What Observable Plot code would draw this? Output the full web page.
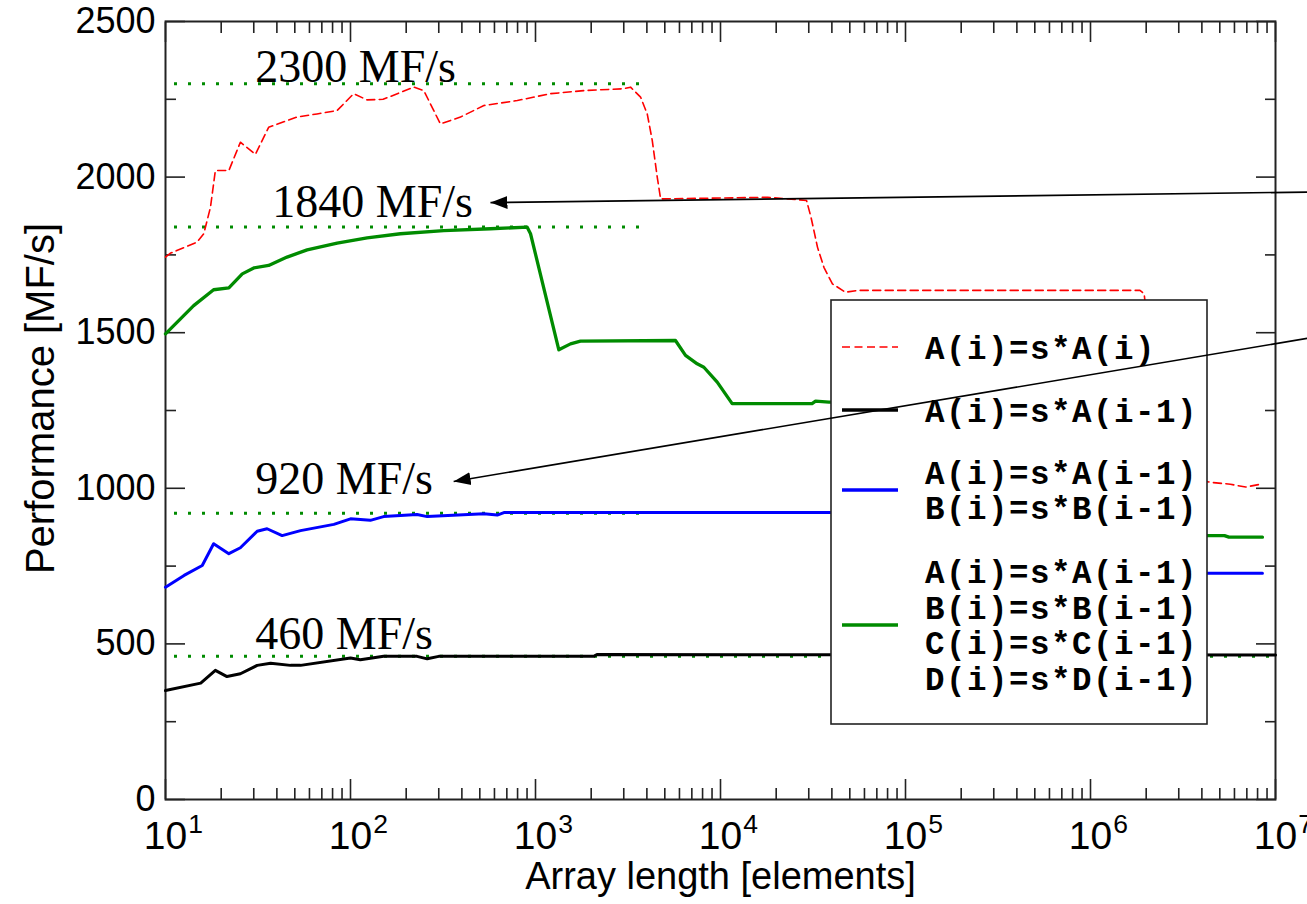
<!DOCTYPE html>
<html>
<head>
<meta charset="utf-8">
<script src="https://cdn.jsdelivr.net/npm/d3@7"></script>
<script src="https://cdn.jsdelivr.net/npm/@observablehq/plot@0.6"></script>
<style>
  html, body { margin: 0; padding: 0; background: #fff; }
  #chart svg { display: block; }
</style>
</head>
<body>
<div id="chart"></div>
<script>
// ---------- data ----------
const xTickExponents = [1, 2, 3, 4, 5, 6, 7];
const yTicks = [0, 500, 1000, 1500, 2000, 2500];
const yMinorTicks = [250, 750, 1250, 1750, 2250];
const xTitle = "Array length [elements]";
const yTitle = "Performance [MF/s]";

const seriesLabels = [
  ["A(i)=s*A(i)"],
  ["A(i)=s*A(i-1)"],
  ["A(i)=s*A(i-1)", "B(i)=s*B(i-1)"],
  ["A(i)=s*A(i-1)", "B(i)=s*B(i-1)", "C(i)=s*C(i-1)", "D(i)=s*D(i-1)"]
];
const seriesColors = ["#ff0000", "#000000", "#0000ff", "#008b00"];

// A(i)=s*A(i)  (red dashed)
const redX = [10, 10.6, 14.8, 16.1, 17.5, 18.6, 22, 25.4, 30.6, 36.1, 51.4, 65.9, 84.7, 104, 123, 150, 220, 249, 306, 393, 526, 797, 1205, 1824, 3000, 3264, 3698, 4018, 4276, 4550, 4745, 17990, 29170, 30850, 33430, 36230, 40270, 47400, 55700, 1850000, 1950000, 2100000, 2800000, 4000000, 4500000, 5700000, 6900000, 8100000];
const redY = [1743, 1755, 1791, 1818, 1903, 2021, 2021, 2112, 2073, 2160, 2193, 2203, 2214, 2268, 2248, 2250, 2289, 2278, 2171, 2193, 2230, 2246, 2268, 2278, 2284, 2289, 2257, 2203, 2118, 2000, 1930, 1935, 1925, 1871, 1775, 1710, 1657, 1630, 1636, 1636, 1625, 1450, 1100, 1025, 1019, 1013, 1004, 1012];

// A(i)=s*A(i-1)  (black)
const blackX = [10, 15.5, 18.6, 21.5, 25.4, 31.3, 37, 47.4, 53.7, 100, 113, 151, 229, 260, 300, 2066, 2150, 10000000];
const blackY = [350, 374, 415, 395, 404, 431, 438, 431, 431, 455, 449, 460, 460, 452, 460, 460, 466, 464];

// A,B  (blue)
const blueX = [10, 12.6, 15.8, 18.2, 22, 25.4, 31.3, 35.4, 42.7, 53.7, 81.3, 100, 128, 151, 229, 260, 526, 621, 675, 80000, 150000, 300000, 4500000, 8500000];
const blueY = [682, 720, 752, 822, 790, 809, 862, 870, 848, 864, 884, 902, 897, 909, 916, 909, 918, 914, 922, 922, 780, 727, 727, 727];

// A,B,C,D  (green)
const greenX = [10, 14.2, 18.2, 22, 26, 30, 36.1, 45.4, 58.3, 84.7, 123, 186, 319, 571, 902, 940, 1337, 1546, 1750, 5710, 6470, 7480, 8130, 9600, 11560, 31250, 32650, 38550, 60000, 150000, 300000, 4500000, 5300000, 5600000, 8500000];
const greenY = [1496, 1587, 1638, 1644, 1689, 1708, 1716, 1743, 1766, 1788, 1805, 1818, 1828, 1834, 1839, 1818, 1445, 1464, 1473, 1475, 1427, 1400, 1389, 1341, 1272, 1272, 1280, 1277, 1277, 1000, 850, 848, 848, 843, 843];

// dotted reference levels and their labels
const refValues = [2300, 1840, 920, 460];
const refFrom = [10, 10, 10, 10];
const refTo = [4000, 4000, 4000, 10000000];
const refLabels = ["2300 MF/s", "1840 MF/s", "920 MF/s", "460 MF/s"];
const refLabelX = [30.6, 37.8, 30.6, 30.6];
const refLabelY = [2307, 1873, 983, 485];

// annotation arrows (start beyond right edge, tip at label)
const arrowFromX = [16000000, 16000000];
const arrowFromY = [1952, 1485];
const arrowToX = [571, 361];
const arrowToY = [1918, 1022];

// ---------- tables ----------
const toRows = (xs, ys) => xs.map((x, i) => ({x, y: ys[i]}));
const red = toRows(redX, redY);
const black = toRows(blackX, blackY);
const blue = toRows(blueX, blueY);
const green = toRows(greenX, greenY);
const refs = refValues.map((v, i) => ({v, x1: refFrom[i], x2: refTo[i], label: refLabels[i], lx: refLabelX[i], ly: refLabelY[i]}));
const arrows = arrowFromX.map((x, i) => ({x1: x, y1: arrowFromY[i], x2: arrowToX[i], y2: arrowToY[i]}));
const xMajor = xTickExponents.map(e => Math.pow(10, e));
const xMinor = xTickExponents.slice(0, -1).flatMap(e => d3.range(2, 10).map(m => m * Math.pow(10, e)));
const xFmt = d => "10^" + Math.round(Math.log10(d));
const yFmt = d => String(d);

const axisColor = "#222";
const chart = Plot.plot({
  width: 1307,
  height: 904,
  marginLeft: 165,
  marginRight: 32,
  marginTop: 21,
  marginBottom: 105,
  style: {fontFamily: "'Liberation Sans', Arial, Helvetica, sans-serif", fontSize: "34px", background: "#fff", overflow: "visible", color: "#000"},
  x: {type: "log", domain: [10, 1e7]},
  y: {domain: [0, 2500]},
  marks: [
    // inward ticks on four sides
    Plot.axisY(yTicks, {anchor: "left", tickSize: -20, tickPadding: 30, tickFormat: yFmt, strokeWidth: 1.6, stroke: axisColor, label: null, fontSize: 36}),
    Plot.axisY(yMinorTicks, {anchor: "left", tickSize: -11, strokeWidth: 1.6, stroke: axisColor, fill: "none", label: null}),
    Plot.axisY(yTicks, {anchor: "right", tickSize: -20, strokeWidth: 1.6, stroke: axisColor, fill: "none", label: null}),
    Plot.axisY(yMinorTicks, {anchor: "right", tickSize: -11, strokeWidth: 1.6, stroke: axisColor, fill: "none", label: null}),
    Plot.axisX(xMajor, {anchor: "bottom", tickSize: -20, tickPadding: 42, tickFormat: xFmt, strokeWidth: 1.6, stroke: axisColor, label: null, fontSize: 39}),
    Plot.axisX(xMinor, {anchor: "bottom", tickSize: -11, strokeWidth: 1.6, stroke: axisColor, fill: "none", label: null}),
    Plot.axisX(xMajor, {anchor: "top", tickSize: -20, strokeWidth: 1.6, stroke: axisColor, fill: "none", label: null}),
    Plot.axisX(xMinor, {anchor: "top", tickSize: -11, strokeWidth: 1.6, stroke: axisColor, fill: "none", label: null}),
    Plot.frame({stroke: axisColor, strokeWidth: 2}),
    // axis titles
    Plot.text([xTitle], {frameAnchor: "bottom", textAnchor: "middle", dy: 89, lineAnchor: "bottom", fontSize: 38, fill: "#000"}),
    Plot.text([yTitle], {frameAnchor: "left", textAnchor: "middle", lineAnchor: "middle", rotate: -90, dx: -124, dy: -12, fontSize: 40, fill: "#000"}),
    // dotted reference levels
    Plot.ruleY(refs, {y: "v", x1: "x1", x2: "x2", stroke: "#008b00", strokeWidth: 3, strokeDasharray: "3,11", strokeDashoffset: -9}),
    // series
    Plot.line(red, {x: "x", y: "y", stroke: seriesColors[0], strokeWidth: 1.6, strokeDasharray: "8,4.5"}),
    Plot.line(black, {x: "x", y: "y", stroke: seriesColors[1], strokeWidth: 3}),
    Plot.line(blue, {x: "x", y: "y", stroke: seriesColors[2], strokeWidth: 3}),
    Plot.line(green, {x: "x", y: "y", stroke: seriesColors[3], strokeWidth: 3.3}),
    // reference labels
    Plot.text(refs, {x: "lx", y: "ly", text: "label", textAnchor: "start", lineAnchor: "bottom", fontFamily: "'Liberation Serif', 'Times New Roman', serif", fontSize: 46, fill: "#000"}),
    // arrows
    Plot.link(arrows, {x1: "x1", y1: "y1", x2: "x2", y2: "y2", stroke: "#000", strokeWidth: 1.6})
  ]
});

document.getElementById("chart").append(chart);
const svg = d3.select(chart);

// superscript exponents on x tick labels, "10" centred on the tick
svg.selectAll('g[aria-label="x-axis tick label"] text').each(function () {
  const t = d3.select(this);
  const [base, exp] = t.text().split("^");
  t.text(null).attr("text-anchor", "start");
  const b = t.append("tspan").text(base);
  const w = b.node().getComputedTextLength();
  b.attr("dx", -w / 2);
  t.append("tspan").text(exp).attr("dy", "-0.62em").attr("dx", 1).attr("font-size", "0.68em");
});

// arrowhead marker
const defs = svg.insert("defs", ":first-child");
defs.append("marker")
  .attr("id", "ahead").attr("markerUnits", "userSpaceOnUse")
  .attr("viewBox", "0 -8 18 16").attr("refX", 17).attr("refY", 0)
  .attr("markerWidth", 18).attr("markerHeight", 16).attr("orient", "auto")
  .append("path").attr("d", "M0,-6.5L17,0L0,6.5Z").attr("fill", "#000");
svg.selectAll('g[aria-label="link"] path').attr("marker-end", "url(#ahead)");

// legend box (drawn over the lines, under the arrows)
const linkG = svg.select('g[aria-label="link"]').node();
const legend = d3.create("svg:g").attr("aria-label", "legend").attr("text-anchor", "start");
const L = {x: 831, y: 300, w: 376, h: 424, sx1: 842, sx2: 898, tx: 925, lh: 35.5};
const centers = [347, 410, 490, 625];
legend.append("rect").attr("x", L.x).attr("y", L.y).attr("width", L.w).attr("height", L.h)
  .attr("fill", "#fff").attr("stroke", "#222").attr("stroke-width", 1.6);
seriesLabels.forEach((lines, i) => {
  const cy = centers[i];
  legend.append("line").attr("x1", L.sx1).attr("x2", L.sx2).attr("y1", cy).attr("y2", cy)
    .attr("stroke", seriesColors[i])
    .attr("stroke-width", i === 0 ? 1.6 : 3.3)
    .attr("stroke-dasharray", i === 0 ? "8,4.5" : null);
  lines.forEach((s, j) => {
    legend.append("text")
      .attr("x", L.tx)
      .attr("y", cy + (j - (lines.length - 1) / 2) * L.lh)
      .attr("dy", "0.36em")
      .attr("text-anchor", "start")
      .attr("font-family", "'Liberation Mono', 'Courier New', monospace")
      .attr("font-weight", "bold")
      .attr("font-size", 32.5)
      .attr("letter-spacing", 1.5)
      .attr("fill", "#000")
      .text(s);
  });
});
chart.insertBefore(legend.node(), linkG);
</script>
</body>
</html>
